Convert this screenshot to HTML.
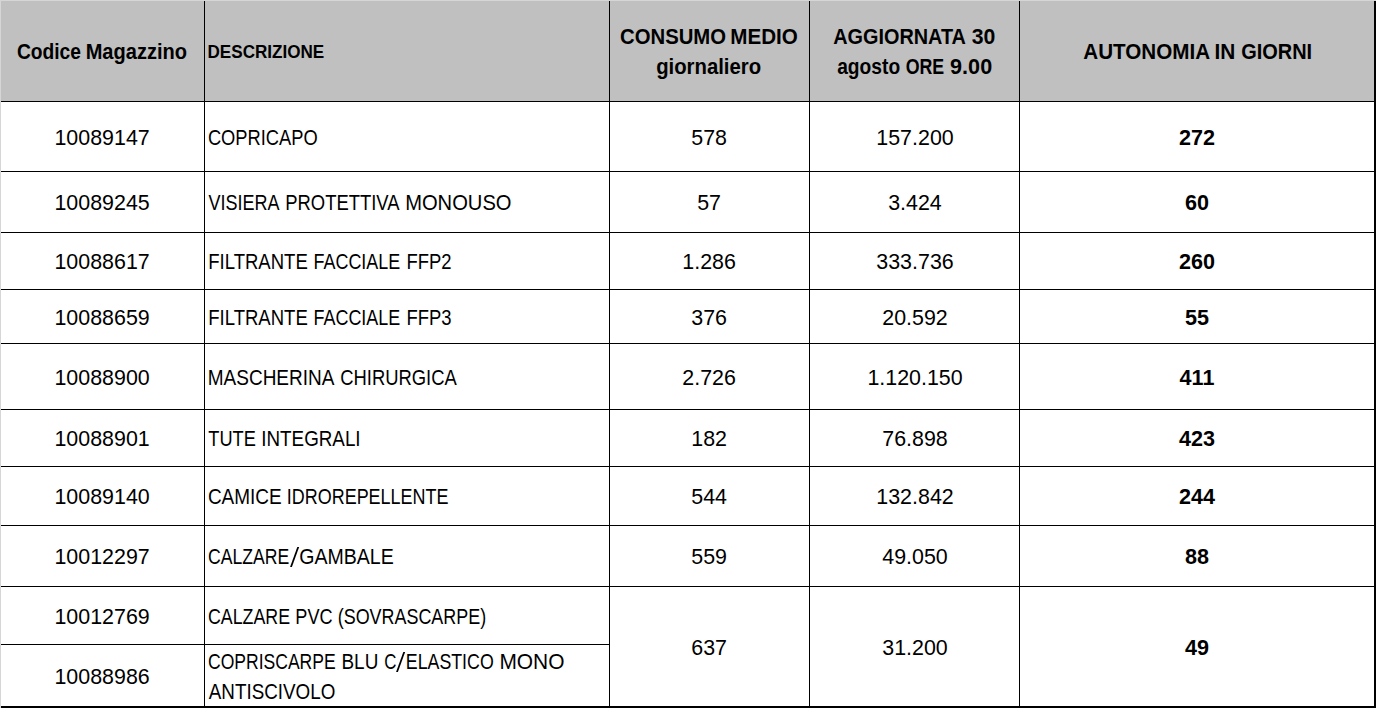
<!DOCTYPE html>
<html><head><meta charset="utf-8"><title>Tabella</title>
<style>
html,body{margin:0;padding:0;}
body{width:1376px;height:708px;background:#fff;position:relative;overflow:hidden;font-family:"Liberation Sans",sans-serif;color:#000;}
.h{position:absolute;left:0;top:0;width:1376px;height:101px;background:#c0c0c0;}
.l{position:absolute;background:#000;}
.e{position:absolute;background:#d6d6d6;}
.t{position:absolute;left:0;white-space:nowrap;line-height:30px;height:30px;}
.c{text-align:center;width:600px;transform-origin:50% 50%;}
.a{transform-origin:0 50%;}
.b{font-weight:bold;}
</style></head><body>

<div class="h"></div>
<div class="l" style="left:1px;top:101px;width:1375px;height:1px"></div>
<div class="l" style="left:1px;top:171px;width:1375px;height:1px"></div>
<div class="l" style="left:1px;top:232px;width:1375px;height:1px"></div>
<div class="l" style="left:1px;top:289px;width:1375px;height:1px"></div>
<div class="l" style="left:1px;top:343px;width:1375px;height:1px"></div>
<div class="l" style="left:1px;top:409px;width:1375px;height:1px"></div>
<div class="l" style="left:1px;top:466px;width:1375px;height:1px"></div>
<div class="l" style="left:1px;top:525px;width:1375px;height:1px"></div>
<div class="l" style="left:1px;top:586px;width:1375px;height:1px"></div>
<div class="l" style="left:1px;top:644px;width:609px;height:1px"></div>
<div class="l" style="left:1px;top:706px;width:1375px;height:2px"></div>
<div class="l" style="left:204px;top:1px;width:1px;height:707px"></div>
<div class="l" style="left:609px;top:1px;width:1px;height:707px"></div>
<div class="l" style="left:809px;top:1px;width:1px;height:707px"></div>
<div class="l" style="left:1019px;top:1px;width:1px;height:707px"></div>
<div class="l" style="left:1374px;top:1px;width:2px;height:707px"></div>
<div class="e" style="left:0;top:0;width:1376px;height:1px"></div>
<div class="e" style="left:0;top:0;width:1px;height:708px"></div>
<div class="t a b" style="top:37px;font-size:22px;transform:translateX(16.88px) scaleX(0.8741)">Codice</div>
<div class="t a b" style="top:37px;font-size:22px;transform:translateX(85.63px) scaleX(0.9115)">Magazzino</div>
<div class="t a b" style="top:37px;font-size:19px;transform:translateX(207.53px) scaleX(0.8990)">DESCRIZIONE</div>
<div class="t a b" style="top:22px;font-size:22px;transform:translateX(620.03px) scaleX(0.9230)">CONSUMO</div>
<div class="t a b" style="top:22px;font-size:22px;transform:translateX(730.24px) scaleX(0.9369)">MEDIO</div>
<div class="t a b" style="top:52px;font-size:22px;transform:translateX(656.13px) scaleX(0.9235)">giornaliero</div>
<div class="t a b" style="top:22px;font-size:22px;transform:translateX(833.20px) scaleX(0.9027)">AGGIORNATA</div>
<div class="t a b" style="top:22px;font-size:22px;transform:translateX(971.67px) scaleX(0.9652)">30</div>
<div class="t a b" style="top:52px;font-size:22px;transform:translateX(837.20px) scaleX(0.8723)">agosto</div>
<div class="t a b" style="top:52px;font-size:22px;transform:translateX(905.64px) scaleX(0.8087)">ORE</div>
<div class="t a b" style="top:52px;font-size:22px;transform:translateX(950.11px) scaleX(0.9818)">9.00</div>
<div class="t a b" style="top:37px;font-size:22px;transform:translateX(1083.28px) scaleX(0.9378)">AUTONOMIA</div>
<div class="t a b" style="top:37px;font-size:22px;transform:translateX(1214.53px) scaleX(0.9474)">IN</div>
<div class="t a b" style="top:37px;font-size:22px;transform:translateX(1241.14px) scaleX(0.9069)">GIORNI</div>
<div class="t a" style="top:123px;font-size:22px;transform:translateX(207.92px) scaleX(0.8308)">COPRICAPO</div>
<div class="t a" style="top:188px;font-size:22px;transform:translateX(208.55px) scaleX(0.8179)">VISIERA</div>
<div class="t a" style="top:188px;font-size:22px;transform:translateX(285.29px) scaleX(0.8367)">PROTETTIVA</div>
<div class="t a" style="top:188px;font-size:22px;transform:translateX(405.15px) scaleX(0.9161)">MONOUSO</div>
<div class="t a" style="top:247px;font-size:22px;transform:translateX(208.28px) scaleX(0.8420)">FILTRANTE</div>
<div class="t a" style="top:247px;font-size:22px;transform:translateX(313.57px) scaleX(0.8145)">FACCIALE</div>
<div class="t a" style="top:247px;font-size:22px;transform:translateX(406.53px) scaleX(0.8382)">FFP2</div>
<div class="t a" style="top:303px;font-size:22px;transform:translateX(208.28px) scaleX(0.8420)">FILTRANTE</div>
<div class="t a" style="top:303px;font-size:22px;transform:translateX(313.57px) scaleX(0.8145)">FACCIALE</div>
<div class="t a" style="top:303px;font-size:22px;transform:translateX(406.53px) scaleX(0.8382)">FFP3</div>
<div class="t a" style="top:363px;font-size:22px;transform:translateX(207.74px) scaleX(0.8636)">MASCHERINA</div>
<div class="t a" style="top:363px;font-size:22px;transform:translateX(340.16px) scaleX(0.8373)">CHIRURGICA</div>
<div class="t a" style="top:424px;font-size:22px;transform:translateX(208.34px) scaleX(0.8259)">TUTE</div>
<div class="t a" style="top:424px;font-size:22px;transform:translateX(261.29px) scaleX(0.8549)">INTEGRALI</div>
<div class="t a" style="top:482px;font-size:22px;transform:translateX(207.89px) scaleX(0.8623)">CAMICE</div>
<div class="t a" style="top:482px;font-size:22px;transform:translateX(286.87px) scaleX(0.8154)">IDROREPELLENTE</div>
<div class="t a" style="top:542px;font-size:22px;transform:translateX(207.95px) scaleX(0.8010)">CALZARE</div>
<div class="t a" style="top:542px;font-size:22px;transform:translateX(299.26px) scaleX(0.8885)">GAMBALE</div>
<div class="t a" style="top:602px;font-size:22px;transform:translateX(207.94px) scaleX(0.8090)">CALZARE</div>
<div class="t a" style="top:602px;font-size:22px;transform:translateX(295.31px) scaleX(0.8235)">PVC</div>
<div class="t a" style="top:602px;font-size:22px;transform:translateX(337.73px) scaleX(0.8148)">(SOVRASCARPE)</div>
<div class="t a" style="top:647px;font-size:22px;transform:translateX(207.95px) scaleX(0.7978)">COPRISCARPE</div>
<div class="t a" style="top:647px;font-size:22px;transform:translateX(341.49px) scaleX(0.8608)">BLU</div>
<div class="t a" style="top:647px;font-size:22px;transform:translateX(384.29px) scaleX(0.7643)">C</div>
<div class="t a" style="top:647px;font-size:22px;transform:translateX(405.84px) scaleX(0.8075)">ELASTICO</div>
<div class="t a" style="top:647px;font-size:22px;transform:translateX(499.39px) scaleX(0.9511)">MONO</div>
<div class="t a" style="top:677px;font-size:22px;transform:translateX(208.75px) scaleX(0.8559)">ANTISCIVOLO</div>
<div class="t c" style="top:123px;font-size:22px;transform:translateX(-197.90px) scaleX(0.9730)">10089147</div>
<div class="t c" style="top:123px;font-size:22px;transform:translateX(409.10px) scaleX(0.9730)">578</div>
<div class="t c" style="top:123px;font-size:22px;transform:translateX(615.00px) scaleX(0.9730)">157.200</div>
<div class="t c b" style="top:123px;font-size:22px;transform:translateX(897.00px) scaleX(0.9800)">272</div>
<div class="t c" style="top:188px;font-size:22px;transform:translateX(-197.90px) scaleX(0.9730)">10089245</div>
<div class="t c" style="top:188px;font-size:22px;transform:translateX(409.10px) scaleX(0.9730)">57</div>
<div class="t c" style="top:188px;font-size:22px;transform:translateX(615.00px) scaleX(0.9730)">3.424</div>
<div class="t c b" style="top:188px;font-size:22px;transform:translateX(897.00px) scaleX(0.9800)">60</div>
<div class="t c" style="top:247px;font-size:22px;transform:translateX(-197.90px) scaleX(0.9730)">10088617</div>
<div class="t c" style="top:247px;font-size:22px;transform:translateX(409.10px) scaleX(0.9730)">1.286</div>
<div class="t c" style="top:247px;font-size:22px;transform:translateX(615.00px) scaleX(0.9730)">333.736</div>
<div class="t c b" style="top:247px;font-size:22px;transform:translateX(897.00px) scaleX(0.9800)">260</div>
<div class="t c" style="top:303px;font-size:22px;transform:translateX(-197.90px) scaleX(0.9730)">10088659</div>
<div class="t c" style="top:303px;font-size:22px;transform:translateX(409.10px) scaleX(0.9730)">376</div>
<div class="t c" style="top:303px;font-size:22px;transform:translateX(615.00px) scaleX(0.9730)">20.592</div>
<div class="t c b" style="top:303px;font-size:22px;transform:translateX(897.00px) scaleX(0.9800)">55</div>
<div class="t c" style="top:363px;font-size:22px;transform:translateX(-197.90px) scaleX(0.9730)">10088900</div>
<div class="t c" style="top:363px;font-size:22px;transform:translateX(409.10px) scaleX(0.9730)">2.726</div>
<div class="t c" style="top:363px;font-size:22px;transform:translateX(615.00px) scaleX(0.9730)">1.120.150</div>
<div class="t c b" style="top:363px;font-size:22px;transform:translateX(897.00px) scaleX(0.9800)">411</div>
<div class="t c" style="top:424px;font-size:22px;transform:translateX(-197.90px) scaleX(0.9730)">10088901</div>
<div class="t c" style="top:424px;font-size:22px;transform:translateX(409.10px) scaleX(0.9730)">182</div>
<div class="t c" style="top:424px;font-size:22px;transform:translateX(615.00px) scaleX(0.9730)">76.898</div>
<div class="t c b" style="top:424px;font-size:22px;transform:translateX(897.00px) scaleX(0.9800)">423</div>
<div class="t c" style="top:482px;font-size:22px;transform:translateX(-197.90px) scaleX(0.9730)">10089140</div>
<div class="t c" style="top:482px;font-size:22px;transform:translateX(409.10px) scaleX(0.9730)">544</div>
<div class="t c" style="top:482px;font-size:22px;transform:translateX(615.00px) scaleX(0.9730)">132.842</div>
<div class="t c b" style="top:482px;font-size:22px;transform:translateX(897.00px) scaleX(0.9800)">244</div>
<div class="t c" style="top:542px;font-size:22px;transform:translateX(-197.90px) scaleX(0.9730)">10012297</div>
<div class="t c" style="top:542px;font-size:22px;transform:translateX(409.10px) scaleX(0.9730)">559</div>
<div class="t c" style="top:542px;font-size:22px;transform:translateX(615.00px) scaleX(0.9730)">49.050</div>
<div class="t c b" style="top:542px;font-size:22px;transform:translateX(897.00px) scaleX(0.9800)">88</div>
<div class="t c" style="top:602px;font-size:22px;transform:translateX(-197.90px) scaleX(0.9730)">10012769</div>
<div class="t c" style="top:662px;font-size:22px;transform:translateX(-197.90px) scaleX(0.9730)">10088986</div>
<div class="t c" style="top:633px;font-size:22px;transform:translateX(409.10px) scaleX(0.9730)">637</div>
<div class="t c" style="top:633px;font-size:22px;transform:translateX(615.00px) scaleX(0.9730)">31.200</div>
<div class="t c b" style="top:633px;font-size:22px;transform:translateX(897.00px) scaleX(0.9800)">49</div>
<svg style="position:absolute;left:0;top:0" width="1376" height="708" viewBox="0 0 1376 708" fill="#000"><polygon points="297.30,547.00 299.15,547.00 291.90,567.00 290.05,567.00"/><polygon points="403.30,652.00 405.15,652.00 397.90,672.00 396.05,672.00"/></svg>
</body></html>
